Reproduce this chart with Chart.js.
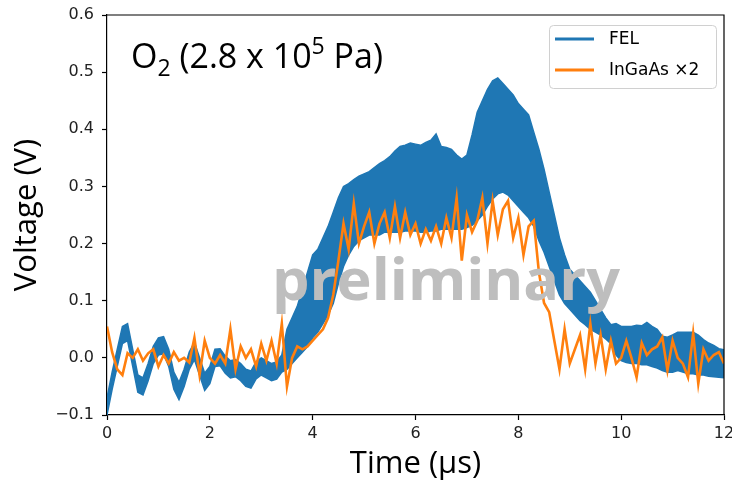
<!DOCTYPE html>
<html lang="en">
<head>
<meta charset="UTF-8">
<title>O2 FEL / InGaAs</title>
<script src="https://cdn.jsdelivr.net/npm/chart.js"></script>
<style>
    html, body { margin: 0; padding: 0; background: #fff; }
    .chart-box { width: 732px; height: 483px; }
</style>
</head>
<body>
<div class="chart-box"><canvas id="voltChart"></canvas></div>
<script>
// time axis (us)
const times = [
    0.0, 0.1, 0.2, 0.3, 0.4, 0.5, 0.6, 0.7, 0.8, 0.9,
    1.0, 1.1, 1.2, 1.3, 1.4, 1.5, 1.6, 1.7, 1.8, 1.9,
    2.0, 2.1, 2.2, 2.3, 2.4, 2.5, 2.6, 2.7, 2.8, 2.9,
    3.0, 3.1, 3.2, 3.3, 3.4, 3.5, 3.6, 3.7, 3.8, 3.9,
    4.0, 4.1, 4.2, 4.3, 4.4, 4.5, 4.6, 4.7, 4.8, 4.9,
    5.0, 5.1, 5.2, 5.3, 5.4, 5.5, 5.6, 5.7, 5.8, 5.9,
    6.0, 6.1, 6.2, 6.3, 6.4, 6.5, 6.6, 6.7, 6.8, 6.9,
    7.0, 7.1, 7.2, 7.3, 7.4, 7.5, 7.6, 7.7, 7.8, 7.9,
    8.0, 8.1, 8.2, 8.3, 8.4, 8.5, 8.6, 8.7, 8.8, 8.9,
    9.0, 9.1, 9.2, 9.3, 9.4, 9.5, 9.6, 9.7, 9.8, 9.9,
    10.0, 10.1, 10.2, 10.3, 10.4, 10.5, 10.6, 10.7, 10.8, 10.9,
    11.0, 11.1, 11.2, 11.3, 11.4, 11.5, 11.6, 11.7, 11.8, 11.9,
    12.0
];

// FEL signal, upper / lower envelope of the noisy band (V)
const felUpper = [
    -0.07, -0.025, 0.015, 0.055, 0.06, 0.015, -0.03, -0.035, -0.01, 0.02,
    0.035, 0.037, 0.015, -0.025, -0.043, -0.02, 0.01, 0.027, 0.0, -0.027,
    -0.015, 0.015, 0.016, 0.003, -0.005, -0.003, -0.01, -0.02, -0.023, -0.007,
    0.0, -0.005, -0.01, -0.007, 0.005, 0.05, 0.07, 0.09, 0.12, 0.15,
    0.18, 0.19, 0.21, 0.23, 0.255, 0.28, 0.30, 0.305, 0.312, 0.318,
    0.322, 0.326, 0.333, 0.34, 0.345, 0.352, 0.362, 0.37, 0.372, 0.376,
    0.374, 0.372, 0.377, 0.381, 0.392, 0.37, 0.368, 0.365, 0.355, 0.348,
    0.355, 0.39, 0.43, 0.45, 0.47, 0.485, 0.49, 0.48, 0.47, 0.46,
    0.445, 0.435, 0.425, 0.395, 0.365, 0.33, 0.29, 0.25, 0.21, 0.18,
    0.155, 0.145, 0.135, 0.125, 0.115, 0.1, 0.085, 0.07, 0.058, 0.06,
    0.055, 0.055, 0.055, 0.057, 0.056, 0.062, 0.055, 0.05, 0.038, 0.036,
    0.04, 0.045, 0.045, 0.045, 0.045, 0.04, 0.032, 0.026, 0.022, 0.016,
    0.014
];
const felLower = [
    -0.1, -0.055, -0.015, 0.025, 0.03, -0.015, -0.06, -0.065, -0.04, -0.01,
    0.005, 0.007, -0.015, -0.055, -0.073, -0.05, -0.02, -0.003, -0.03, -0.057,
    -0.045, -0.015, -0.014, -0.027, -0.035, -0.033, -0.04, -0.05, -0.053, -0.037,
    -0.03, -0.035, -0.04, -0.037, -0.025, -0.02, -0.01, 0.0, 0.01, 0.02,
    0.035, 0.045, 0.06, 0.075, 0.095, 0.13, 0.16, 0.18, 0.195, 0.205,
    0.21, 0.215, 0.215, 0.215, 0.22, 0.22, 0.22, 0.22, 0.222, 0.222,
    0.222, 0.22, 0.22, 0.222, 0.222, 0.225, 0.225, 0.225, 0.225, 0.225,
    0.228, 0.232, 0.24, 0.25, 0.265, 0.278, 0.287, 0.29, 0.285, 0.275,
    0.265, 0.255, 0.245, 0.23, 0.205, 0.185, 0.16, 0.135, 0.11, 0.095,
    0.085, 0.075, 0.065, 0.058, 0.05, 0.045, 0.04, 0.033, 0.025, 0.005,
    -0.005, -0.008, -0.01, -0.01, -0.012, -0.012, -0.015, -0.018, -0.022, -0.025,
    -0.025, -0.022, -0.025, -0.028, -0.028, -0.03, -0.03, -0.032, -0.033, -0.034,
    -0.035
];

// InGaAs signal x2 (V)
const ingaas = [
    0.055, 0.01, -0.02, -0.03, 0.008, 0.0, 0.015, -0.005, 0.008, 0.015,
    -0.015, 0.005, -0.01, 0.01, -0.005, 0.0, -0.008, 0.035, -0.03, 0.03,
    0.0, -0.01, 0.005, -0.01, 0.05, -0.02, 0.02, 0.0, 0.015, -0.015,
    0.025, -0.005, 0.03, -0.01, 0.06, -0.05, 0.0, 0.02, 0.015, 0.02,
    0.03, 0.04, 0.05, 0.07, 0.11, 0.17, 0.235, 0.19, 0.27, 0.2,
    0.23, 0.255, 0.2, 0.235, 0.255, 0.21, 0.265, 0.21, 0.255, 0.215,
    0.235, 0.2, 0.225, 0.205, 0.23, 0.2, 0.245, 0.21, 0.28, 0.17,
    0.25, 0.22, 0.24, 0.28, 0.2, 0.275, 0.215, 0.26, 0.275, 0.21,
    0.245, 0.18, 0.23, 0.24, 0.15, 0.096, 0.08, 0.03, -0.02, 0.05,
    -0.01, 0.015, 0.04, -0.02, 0.06, -0.01, 0.04, -0.02, 0.03, -0.01,
    0.0, 0.03, 0.0, -0.034, 0.026, 0.005, 0.015, 0.02, 0.036, -0.022,
    0.03, 0.0, -0.01, -0.034, 0.043, -0.045, 0.015, -0.005, 0.005, 0.01,
    -0.01
];

const xTicks = [0, 2, 4, 6, 8, 10, 12];
const yTicks = [-0.1, 0.0, 0.1, 0.2, 0.3, 0.4, 0.5, 0.6];
const seriesNames = ['FEL', 'InGaAs \u00d72'];

const BLUE = '#1f77b4';
const ORANGE = '#ff7f0e';

function pts(vals) {
    return vals.map((v, i) => ({ x: times[i], y: v }));
}

// frame, annotation, watermark and legend
const decorPlugin = {
    id: 'decor',
    afterDatasetsDraw(chart) {
        const ctx = chart.ctx;
        const a = chart.chartArea;
        ctx.save();

        // watermark
        ctx.fillStyle = 'rgba(190,190,190,1)';
        ctx.font = 'bold 58px "Open Sans"';
        ctx.textBaseline = 'alphabetic';
        ctx.textAlign = 'left';
        const wm = 'preliminary';
        const w = ctx.measureText(wm).width;
        ctx.save();
        ctx.translate(272, 300);
        ctx.scale(348 / w, 1);
        ctx.fillText(wm, 0, 0);
        ctx.restore();

        // O2 (2.8 x 10^5 Pa)
        ctx.fillStyle = '#000';
        let x = 131;
        const base = 68;
        ctx.font = '34px "Open Sans"';
        ctx.fillText('O', x, base);
        x += ctx.measureText('O').width;
        ctx.font = '23px "Open Sans"';
        ctx.fillText('2', x, base + 8);
        x += ctx.measureText('2').width;
        ctx.font = '34px "Open Sans"';
        ctx.fillText(' (2.8 x 10', x, base);
        x += ctx.measureText(' (2.8 x 10').width;
        ctx.font = '23px "Open Sans"';
        ctx.fillText('5', x, base - 14);
        x += ctx.measureText('5').width;
        ctx.font = '34px "Open Sans"';
        ctx.fillText(' Pa)', x, base);

        // legend
        const lx = 549, ly = 25, lw = 167, lh = 63;
        ctx.fillStyle = 'rgba(255,255,255,0.85)';
        ctx.strokeStyle = '#d0d0d0';
        ctx.lineWidth = 1;
        ctx.beginPath();
        ctx.roundRect(lx + 0.5, ly + 0.5, lw, lh, 4);
        ctx.fill();
        ctx.stroke();
        const colors = [BLUE, ORANGE];
        ctx.font = '17px "DejaVu Sans"';
        ctx.textBaseline = 'middle';
        seriesNames.forEach((name, i) => {
            const yy = 39 + i * 31;
            ctx.strokeStyle = colors[i];
            ctx.lineWidth = 3;
            ctx.beginPath();
            ctx.moveTo(555, yy);
            ctx.lineTo(594, yy);
            ctx.stroke();
            ctx.fillStyle = '#000';
            ctx.fillText(name, 609, yy + 1);
        });

        // top and right spines
        ctx.strokeStyle = '#000';
        ctx.lineWidth = 1.2;
        ctx.beginPath();
        ctx.moveTo(a.left, a.top);
        ctx.lineTo(a.right, a.top);
        ctx.lineTo(a.right, a.bottom);
        ctx.stroke();
        ctx.restore();
    }
};

new Chart(document.getElementById('voltChart'), {
    type: 'line',
    data: {
        datasets: [
            {
                label: seriesNames[0],
                data: pts(felUpper),
                borderColor: BLUE,
                backgroundColor: BLUE,
                borderWidth: 1.5,
                pointRadius: 0,
                tension: 0,
                fill: '+1',
                order: 2
            },
            {
                label: 'FEL lower',
                data: pts(felLower),
                borderColor: BLUE,
                backgroundColor: BLUE,
                borderWidth: 1.5,
                pointRadius: 0,
                tension: 0,
                fill: false,
                order: 2
            },
            {
                label: seriesNames[1],
                data: pts(ingaas),
                borderColor: ORANGE,
                borderWidth: 2.6,
                pointRadius: 0,
                tension: 0,
                fill: false,
                order: 1
            }
        ]
    },
    options: {
        responsive: true,
        maintainAspectRatio: false,
        animation: false,
        layout: { padding: { left: 0, top: 15, right: 8, bottom: 0 } },
        plugins: {
            legend: { display: false },
            tooltip: { enabled: false }
        },
        scales: {
            x: {
                type: 'linear',
                min: 0,
                max: 12,
                afterBuildTicks: s => { s.ticks = xTicks.map(v => ({ value: v })); },
                afterFit: s => { s.height = 68; s.paddingLeft = 0; s.paddingRight = 0; },
                grid: { drawOnChartArea: false, drawTicks: true, tickLength: 5, tickColor: '#000', tickWidth: 1.2 },
                border: { color: '#000', width: 1.2 },
                ticks: {
                    color: '#222',
                    font: { family: 'DejaVu Sans', size: 16 },
                    padding: 4,
                    maxRotation: 0,
                    callback: v => String(v)
                },
                title: {
                    display: true,
                    text: 'Time (\u03bcs)',
                    color: '#000',
                    font: { family: 'Open Sans', size: 31 },
                    padding: { top: 0, bottom: 0 }
                }
            },
            y: {
                min: -0.1,
                max: 0.6,
                afterBuildTicks: s => { s.ticks = yTicks.map(v => ({ value: v })); },
                afterFit: s => { s.width = 107; s.paddingTop = 0; s.paddingBottom = 0; },
                grid: { drawOnChartArea: false, drawTicks: true, tickLength: 5, tickColor: '#000', tickWidth: 1.2 },
                border: { color: '#000', width: 1.2 },
                ticks: {
                    color: '#222',
                    font: { family: 'DejaVu Sans', size: 16 },
                    padding: 8,
                    callback: v => v.toFixed(1).replace('-', '\u2212')
                },
                title: {
                    display: true,
                    text: 'Voltage (V)',
                    color: '#000',
                    font: { family: 'Open Sans', size: 31 },
                    padding: { top: 9, bottom: 0 }
                }
            }
        }
    },
    plugins: [decorPlugin]
});
</script>
</body>
</html>
